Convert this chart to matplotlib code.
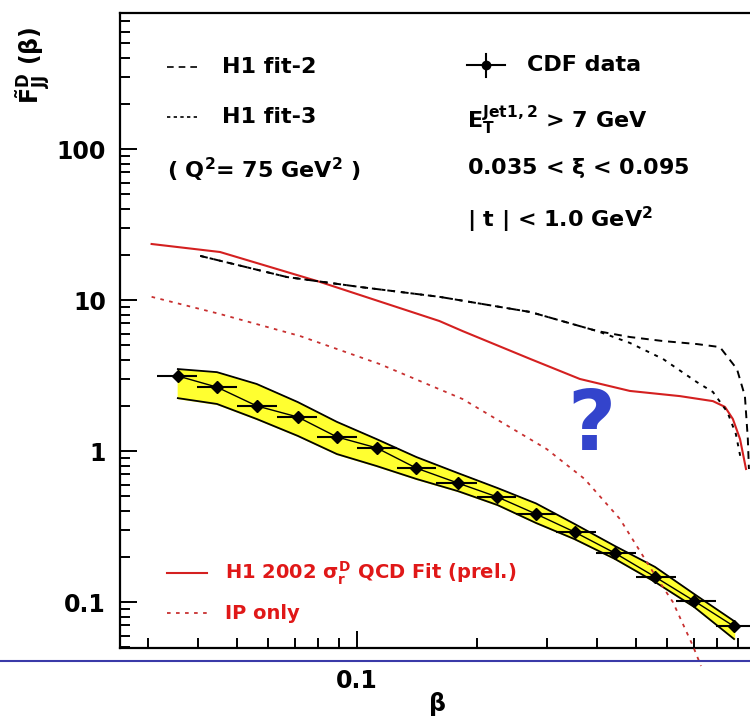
import matplotlib
matplotlib.use('Agg')
import matplotlib.pyplot as plt
from matplotlib.lines import Line2D
from matplotlib.ticker import FixedLocator, LogLocator, NullFormatter, FuncFormatter

plt.rcParams['font.family'] = ['DejaVu Sans']
plt.rcParams['font.weight'] = 'bold'
plt.rcParams['mathtext.fontset'] = 'custom'
plt.rcParams['mathtext.rm'] = 'DejaVu Sans:bold'
plt.rcParams['mathtext.it'] = 'DejaVu Sans:bold'
plt.rcParams['mathtext.bf'] = 'DejaVu Sans:bold'

# CDF data points
beta_pts = [0.0356, 0.0446, 0.0561, 0.0711, 0.0891, 0.112, 0.141, 0.179,
            0.225, 0.281, 0.351, 0.443, 0.558, 0.700, 0.881]
f_pts = [3.14, 2.65, 1.99, 1.68, 1.24, 1.05, 0.77, 0.614,
         0.496, 0.383, 0.291, 0.211, 0.147, 0.1016, 0.069]
bin_edges = [0.0316, 0.0398, 0.0501, 0.0631, 0.0794, 0.1, 0.126, 0.158,
             0.2, 0.251, 0.316, 0.398, 0.501, 0.631, 0.794, 1.0]
band_hi = [3.49, 3.33, 2.78, 2.11, 1.56, 1.20, 0.912, 0.715,
           0.569, 0.450, 0.329, 0.235, 0.171, 0.113, 0.0748]
band_lo = [2.24, 2.05, 1.63, 1.26, 0.955, 0.796, 0.653, 0.543,
           0.439, 0.334, 0.261, 0.193, 0.136, 0.0927, 0.0569]

# H1 2002 QCD fit (red solid)
qcd_beta = [0.0306, 0.0454, 0.0807, 0.161, 0.184, 0.272, 0.362, 0.483,
            0.645, 0.780, 0.836, 0.875, 0.912, 0.944]
qcd_f = [23.5, 20.8, 13.2, 7.26, 6.23, 4.07, 3.0, 2.50,
         2.31, 2.14, 1.96, 1.63, 1.20, 0.76]

# IP only (red dotted)
ip_beta = [0.0306, 0.0454, 0.0720, 0.114, 0.184, 0.299, 0.372, 0.456,
           0.552, 0.619, 0.695, 0.728]
ip_f = [10.5, 8.08, 5.78, 3.77, 2.21, 1.03, 0.653, 0.355,
        0.158, 0.100, 0.0512, 0.0377]

# H1 fit-2 (black dashed)
fit2_beta = [0.0405, 0.0668, 0.1018, 0.161, 0.272, 0.400, 0.483, 0.585,
             0.711, 0.812, 0.896, 0.938, 0.954, 0.960]
fit2_f = [19.6, 14.2, 12.2, 10.5, 8.33, 6.23, 5.69, 5.35,
          5.11, 4.88, 3.49, 2.31, 1.20, 0.76]

# H1 fit-3 (black dotted)
fit3_beta = [0.0405, 0.0668, 0.1018, 0.161, 0.272, 0.400, 0.483, 0.585,
             0.711, 0.780, 0.848, 0.890, 0.915]
fit3_f = [19.6, 14.2, 12.2, 10.5, 8.33, 6.23, 5.2, 4.07,
          2.86, 2.46, 1.81, 1.30, 0.90]

fig = plt.figure(figsize=(7.5, 7.22), dpi=100)
ax = fig.add_axes([120 / 750, 74 / 722, 636 / 750, 635 / 722])

ax.set_xscale('log')
ax.set_yscale('log')
ax.set_xlim(0.0255, 1.0)
ax.set_ylim(0.0496, 796)

# yellow error band
ax.fill_between(beta_pts, band_lo, band_hi, color='#ffff30', zorder=2)
ax.plot(beta_pts, band_hi, color='black', lw=1.3, zorder=3)
ax.plot(beta_pts, band_lo, color='black', lw=1.3, zorder=3)
ax.plot(beta_pts, f_pts, color='black', lw=1.0, zorder=3)

xerr_lo = [b - e for b, e in zip(beta_pts, bin_edges[:-1])]
xerr_hi = [e - b for b, e in zip(beta_pts, bin_edges[1:])]
ax.errorbar(beta_pts, f_pts, xerr=[xerr_lo, xerr_hi], fmt='D', color='black',
            ms=6, elinewidth=1.5, capsize=0, zorder=4)

ax.plot(qcd_beta, qcd_f, color='#d42020', lw=1.5, zorder=3)
ax.plot(ip_beta, ip_f, color='#c83030', lw=1.3, ls=(0, (2, 3)), zorder=3,
        clip_on=False)
ax.plot(fit2_beta, fit2_f, color='black', lw=1.4, ls=(0, (4, 3)), zorder=3)
ax.plot(fit3_beta, fit3_f, color='black', lw=1.4, ls=(0, (2, 3)), zorder=3)

# question mark
ax.text(0.388, 1.45, '?', color='#3344cc', fontsize=60, ha='center', va='center',
        family='DejaVu Sans', fontweight='bold')

# axes styling
for s in ax.spines.values():
    s.set_linewidth(1.6)
ax.tick_params(which='both', direction='in', top=False, right=False, width=1.4,
               labelsize=17)
ax.tick_params(which='major', length=12)
ax.tick_params(which='minor', length=7)
ax.xaxis.set_major_locator(FixedLocator([0.1, 1.0]))
ax.yaxis.set_major_locator(FixedLocator([0.1, 1, 10, 100]))
ax.xaxis.set_minor_locator(LogLocator(base=10, subs=range(2, 10)))
ax.yaxis.set_minor_locator(LogLocator(base=10, subs=range(2, 10)))
ax.xaxis.set_minor_formatter(NullFormatter())
ax.yaxis.set_minor_formatter(NullFormatter())
ax.xaxis.set_major_formatter(FuncFormatter(lambda v, p: '%g' % v))
ax.yaxis.set_major_formatter(FuncFormatter(lambda v, p: '%g' % v))
ax.tick_params(axis='x', pad=15)
ax.tick_params(axis='y', pad=10)

# legend, top left
ax.plot([0.074, 0.123], [0.915, 0.915], transform=ax.transAxes, color='black',
        lw=1.2, ls=(0, (4, 3)))
ax.text(0.160, 0.915, 'H1 fit-2', transform=ax.transAxes, fontsize=16, va='center')
ax.plot([0.074, 0.123], [0.836, 0.836], transform=ax.transAxes, color='black',
        lw=1.2, ls=(0, (2, 2)))
ax.text(0.160, 0.836, 'H1 fit-3', transform=ax.transAxes, fontsize=16, va='center')
ax.text(0.074, 0.753, r'( Q$^2$= 75 GeV$^2$ )', transform=ax.transAxes,
        fontsize=16, va='center')

# CDF legend and cuts, top right
ax.plot([0.546, 0.605], [0.918, 0.918], transform=ax.transAxes, color='black', lw=1.5)
ax.plot([0.575, 0.575], [0.900, 0.936], transform=ax.transAxes, color='black', lw=1.5)
ax.plot([0.575], [0.918], transform=ax.transAxes, marker='o', color='black', ms=6)
ax.text(0.640, 0.918, 'CDF data', transform=ax.transAxes, fontsize=16, va='center')
ax.text(0.546, 0.831, r'E$_\mathrm{T}^\mathrm{Jet1,2}$ > 7 GeV', transform=ax.transAxes,
        fontsize=16, va='center')
ax.text(0.546, 0.756, r'0.035 < $\xi$ < 0.095', transform=ax.transAxes,
        fontsize=16, va='center')
ax.text(0.546, 0.674, r'| t | < 1.0 GeV$^2$', transform=ax.transAxes,
        fontsize=16, va='center')

# legend, bottom left (red)
ax.plot([0.074, 0.137], [0.118, 0.118], transform=ax.transAxes, color='#d42020', lw=1.5)
ax.text(0.165, 0.118, r'H1 2002 $\sigma_r^D$ QCD Fit (prel.)', transform=ax.transAxes,
        fontsize=14, va='center', color='#e01818')
ax.plot([0.074, 0.137], [0.055, 0.055], transform=ax.transAxes, color='#c83030',
        lw=1.3, ls=(0, (2, 3)))
ax.text(0.165, 0.055, 'IP only', transform=ax.transAxes, fontsize=14,
        va='center', color='#e01818')

fig.text(437 / 750, 1 - 704 / 722, r'$\beta$', fontsize=17, ha='center', va='center')
fig.text(0.045, 1 - 65 / 722, r'$\tilde{F}^{D}_{JJ}$ ($\beta$)', rotation=90,
         fontsize=17, ha='center', va='center')

# horizontal slide rule
fig.add_artist(Line2D([0, 1], [0.0845, 0.0845], color='#3a3aa8', lw=1.5))

fig.savefig('out.png', dpi=100)
